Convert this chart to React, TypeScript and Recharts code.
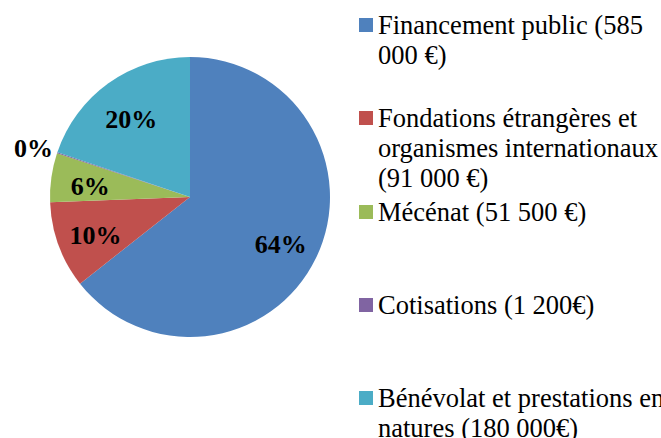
import React from 'react';
import { PieChart, Pie, Cell, Legend } from 'recharts';

// Sources de financement (libellés tels qu'affichés dans la légende)
const sources = [
  'Financement public (585 000 €)',
  'Fondations étrangères et organismes internationaux (91 000 €)',
  'Mécénat (51 500 €)',
  'Cotisations (1 200€)',
  'Bénévolat et prestations en natures (180 000€)',
];
const amounts = [585000, 91000, 51500, 1200, 180000];
const colors = ['#4F81BD', '#C0504D', '#9BBB59', '#8064A2', '#4BACC6'];

const data = sources.map((name, i) => ({ name, value: amounts[i] }));

const RADIAN = Math.PI / 180;
const FONT = '"Liberation Serif", "Times New Roman", serif';

const renderLabel = (props: any) => {
  const { cx, cy, midAngle, outerRadius, percent } = props;
  // tiny slices get their label pushed outside the pie, like Excel does
  const r = percent < 0.01 ? outerRadius + 25 : outerRadius * 0.72;
  const x = cx + r * Math.cos(-midAngle * RADIAN);
  const y = cy + r * Math.sin(-midAngle * RADIAN) + 4;
  return (
    <text
      x={x}
      y={y}
      fill="#000"
      textAnchor="middle"
      dominantBaseline="central"
      fontFamily={FONT}
      fontWeight="bold"
      fontSize={26}
    >
      {`${Math.round(percent * 100)}%`}
    </text>
  );
};

const renderLegend = () => (
  <div style={{ fontFamily: FONT, fontSize: 26.5, lineHeight: '30px', color: '#000' }}>
    {sources.map((name, i) => (
      <div key={name} style={{ height: 93.3, display: 'flex', alignItems: 'flex-start' }}>
        <span
          style={{
            width: 14,
            height: 14,
            marginTop: 8,
            marginRight: 5,
            background: colors[i],
            flex: '0 0 auto',
          }}
        />
        <span style={{ width: 298, flex: '0 0 auto' }}>{name}</span>
      </div>
    ))}
  </div>
);

export default function App() {
  return (
    <div
      style={{
        position: 'absolute',
        left: 0,
        top: 0,
        width: 661,
        height: 438,
        overflow: 'hidden',
        background: '#fff',
      }}
    >
      <PieChart width={661} height={438} margin={{ top: 0, right: 0, bottom: 0, left: 0 }}>
        <Pie
          data={data}
          dataKey="value"
          nameKey="name"
          cx={190}
          cy={197}
          outerRadius={140}
          startAngle={90}
          endAngle={-270}
          stroke="none"
          label={renderLabel}
          labelLine={false}
          isAnimationActive={false}
        >
          {data.map((d, i) => (
            <Cell key={d.name} fill={colors[i]} />
          ))}
        </Pie>
        <Legend
          content={renderLegend}
          wrapperStyle={{ position: 'absolute', left: 359, top: 10, width: 320, height: 438 }}
        />
      </PieChart>
    </div>
  );
}
